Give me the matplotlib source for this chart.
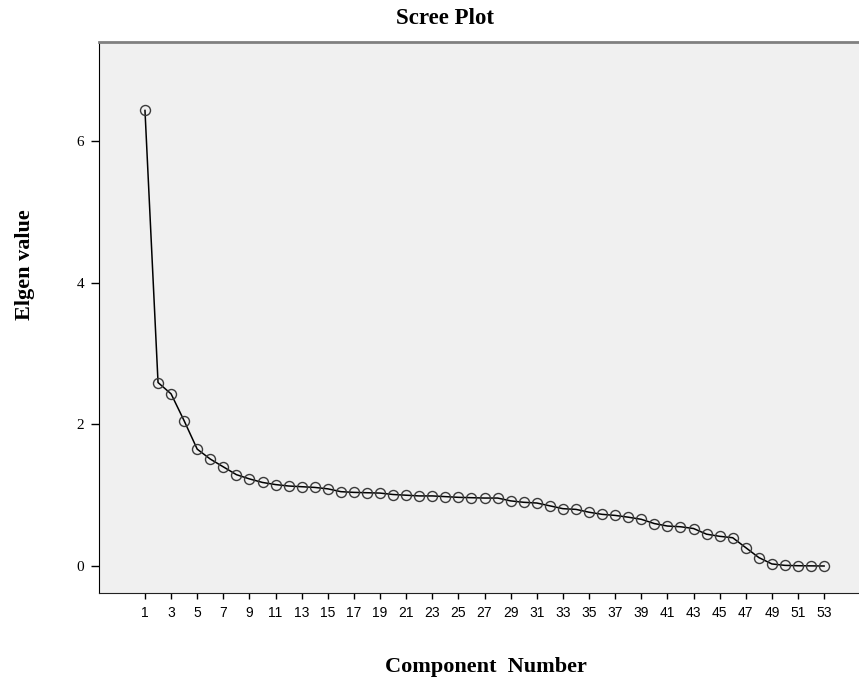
import numpy as np
import matplotlib
matplotlib.use("Agg")
import matplotlib.pyplot as plt

# ----------------------------
# Eigenvalues
# ----------------------------

components = np.arange(1, 54)
eigenvalues = [6.43, 2.59, 2.43, 2.05, 1.65, 1.51, 1.40, 1.29, 1.23, 1.18,
               1.15, 1.13, 1.12, 1.11, 1.09, 1.05, 1.04, 1.035, 1.03, 1.01,
               1.00, 0.99, 0.99, 0.98, 0.97, 0.965, 0.96, 0.96, 0.92, 0.90,
               0.89, 0.85, 0.81, 0.80, 0.76, 0.73, 0.715, 0.69, 0.66, 0.60,
               0.565, 0.555, 0.53, 0.45, 0.42, 0.40, 0.26, 0.12, 0.03, 0.01,
               0.005, 0.003, 0.001]

xticks = np.arange(1, 54, 2)
yticks = [0, 2, 4, 6]

serif = 'Liberation Serif'

# ----------------------------
# Plot
# ----------------------------

fig = plt.figure(figsize=(8.59, 6.79), dpi=100)
ax = fig.add_axes([99/859, 86/679, 760/859, 551.3/679])
ax.set_facecolor('#f0f0f0')

ax.plot(components, eigenvalues, '-', color='black', linewidth=1.1, zorder=2)
ax.plot(components, eigenvalues, 'o', markersize=7.2, markerfacecolor='none',
        markeredgecolor='#3a3a3a', markeredgewidth=1.0, zorder=3)

ax.set_xlim(-2.52, 55.67)
ax.set_ylim(-0.38, 7.40)

ax.set_xticks(xticks)
ax.set_xticklabels([str(t) for t in xticks], fontfamily='Liberation Sans', fontsize=10)
ax.set_yticks(yticks)
ax.set_yticklabels([str(t) for t in yticks], fontfamily=serif, fontsize=11)
ax.tick_params(axis='x', direction='out', length=4.3, width=1, pad=5, color='black')
ax.tick_params(axis='y', direction='out', length=5.8, width=1, pad=5, color='black')

ax.spines['right'].set_visible(False)
ax.spines['top'].set_color('#808080')
ax.spines['top'].set_linewidth(2)
ax.spines['left'].set_color('black')
ax.spines['bottom'].set_color('#222222')

ax.set_ylabel('Elgen value', fontfamily=serif, fontweight='bold', fontsize=16)
ax.yaxis.set_label_coords(-0.084, 0.595)
ax.set_xlabel('Component  Number', fontfamily=serif, fontweight='bold', fontsize=16)
ax.xaxis.set_label_coords(0.509, -0.116)

fig.text(445/859, 1 - 18/679, 'Scree Plot', fontfamily=serif, fontweight='bold',
         fontsize=16.5, ha='center', va='center')

plt.savefig('out.png', dpi=100)
